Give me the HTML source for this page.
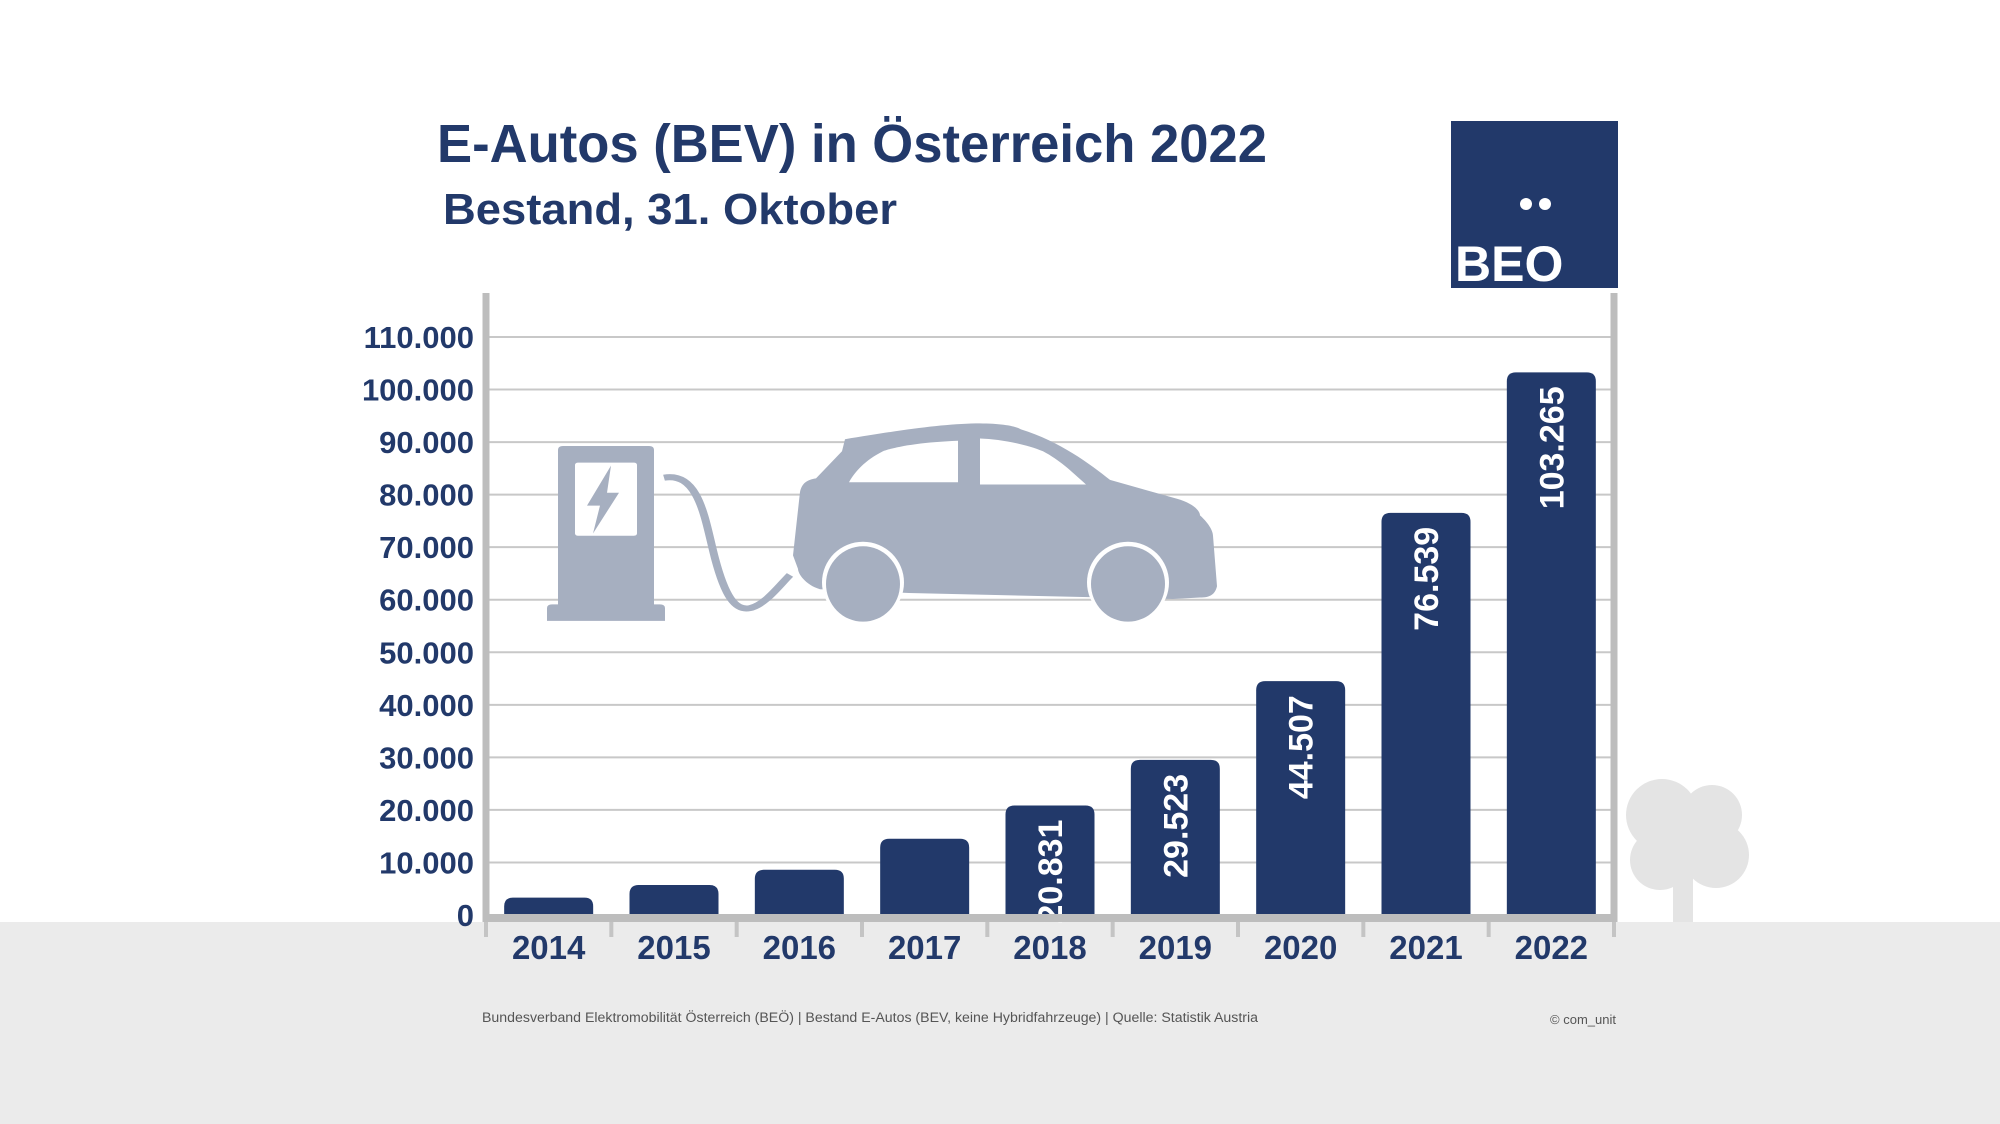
<!DOCTYPE html>
<html><head><meta charset="utf-8"><style>
html,body{margin:0;padding:0;background:#fff;}
svg{display:block;}
text{font-family:"Liberation Sans",sans-serif;}
</style></head><body>
<svg id="chart" width="2000" height="1124" viewBox="0 0 2000 1124">
<rect x="0" y="0" width="2000" height="1124" fill="#ffffff"/>
<rect x="0" y="922" width="2000" height="202" fill="#ebebeb"/>
<g fill="#e4e4e4">
<rect x="1673" y="860" width="20" height="62"/>
<circle cx="1662" cy="815" r="36"/><circle cx="1712" cy="815" r="30"/>
<circle cx="1660" cy="860" r="30"/><circle cx="1716" cy="855" r="33"/><circle cx="1690" cy="840" r="30"/>
</g>
<text x="437" y="162" font-size="54" font-weight="bold" fill="#22396a" textLength="830" lengthAdjust="spacingAndGlyphs">E-Autos (BEV) in Österreich 2022</text>
<text x="443" y="224" font-size="44" font-weight="bold" fill="#22396a" textLength="454" lengthAdjust="spacingAndGlyphs">Bestand, 31. Oktober</text>
<g>
<rect x="1451" y="121" width="167" height="167" fill="#22396a"/>
<circle cx="1526" cy="204" r="6" fill="#fff"/><circle cx="1545" cy="204" r="6" fill="#fff"/>
<text x="1455" y="281" font-size="50" font-weight="bold" fill="#fff">BEO</text>
</g>
<g id="grid"></g>
<g fill="#a6afc0" transform="translate(0,446) scale(1,0.754) translate(0,-461)">
<path d="M558 466 Q558 461 563 461 L649 461 Q654 461 654 466 L654 671 L660 671 Q665 671 665 676 L665 693 L547 693 L547 676 Q547 671 552 671 L558 671 Z"/>
<rect x="575" y="483" width="62" height="97" rx="3" fill="#fff"/>
<path d="M611 487 L587 540 L600 540 L593 577 L619 523 L607 523 Z"/>
<path d="M664 503 C700 495 705 560 715 610 C725 660 735 680 750 676 C765 672 780 645 790 632" fill="none" stroke="#a6afc0" stroke-width="8"/>
<path d="M845 452 C900 440 940 432 976 431 C1000 431 1015 434 1021 439 C1060 455 1090 485 1110 506 L1177 531 C1195 538 1200 548 1200 553 C1210 565 1213 575 1213 580 L1217 647 C1215 658 1210 662 1200 662 L1173 664 L909 656 L820 651 C805 645 798 630 798 624 L793 606 L800 522 C802 510 807 506 816 504 L842 468 Z"/>
<path d="M849 509 L958 509 L958 454 C920 456 895 462 883 468 C865 480 855 495 849 509 Z" fill="#fff"/>
<path d="M980 451 L980 512 L1086 512 C1070 493 1060 480 1043 468 C1025 458 1000 452 980 451 Z" fill="#fff"/>
<ellipse cx="863" cy="642" rx="41" ry="54" fill="#fff"/><ellipse cx="863" cy="644" rx="37" ry="50"/>
<ellipse cx="1128" cy="642" rx="41" ry="54" fill="#fff"/><ellipse cx="1128" cy="644" rx="37" ry="50"/>
</g>
<g id="bars"></g>
<g id="axes"></g>
<text x="482" y="1022" font-size="13.5" fill="#555" textLength="776" lengthAdjust="spacingAndGlyphs">Bundesverband Elektromobilität Österreich (BEÖ) | Bestand E-Autos (BEV, keine Hybridfahrzeuge) | Quelle: Statistik Austria</text>
<text x="1616" y="1024" font-size="13" fill="#555" text-anchor="end">© com_unit</text>
</svg>
<script>
const categories = ["2014","2015","2016","2017","2018","2019","2020","2021","2022"];
const values = [3300, 5700, 8600, 14500, 20831, 29523, 44507, 76539, 103265];
const valueLabels = ["","","","","20.831","29.523","44.507","76.539","103.265"];
const yTicks = [0,10000,20000,30000,40000,50000,60000,70000,80000,90000,100000,110000];
const yTickLabels = ["0","10.000","20.000","30.000","40.000","50.000","60.000","70.000","80.000","90.000","100.000","110.000"];

const NS = "http://www.w3.org/2000/svg";
const X0 = 486, X1 = 1614, Y0 = 915, Y1 = 337, YMAX = 110000;
const step = (X1 - X0) / categories.length;
function y(v){ return Y0 - (v / YMAX) * (Y0 - Y1); }
function xc(i){ return X0 + step * (i + 0.5); }
function mk(tag, attrs, parent){ const e = document.createElementNS(NS, tag); for (const k in attrs) e.setAttribute(k, attrs[k]); parent.appendChild(e); return e; }

const grid = document.getElementById("grid");
const axes = document.getElementById("axes");
const bars = document.getElementById("bars");

yTicks.forEach((t, i) => {
  if (t > 0) {
    const l = mk("line", {x1: X0, x2: X1, y1: y(t), y2: y(t), stroke: "#c8c8c8", "stroke-width": 2}, grid);
    
    
  }
  const tx = mk("text", {x: 474, y: y(t) + 11, "text-anchor": "end", "font-size": 31, "font-weight": "bold", fill: "#22396a"}, axes);
  tx.textContent = yTickLabels[i];
  
  
});

values.forEach((v, i) => {
  const w = 89, bx = xc(i) - w / 2, by = y(v), r = Math.min(9, (Y0 - by) / 2);
  const p = mk("path", {d: `M${bx} ${Y0} L${bx} ${by + r} Q${bx} ${by} ${bx + r} ${by} L${bx + w - r} ${by} Q${bx + w} ${by} ${bx + w} ${by + r} L${bx + w} ${Y0} Z`, fill: "#22396a"}, bars);
  
  
  if (valueLabels[i]) {
    const cx = xc(i) + 12, cy = by + 14;
    const t = mk("text", {x: cx, y: cy, transform: `rotate(-90 ${cx} ${cy})`, "text-anchor": "end", "font-size": 34, "font-weight": "bold", fill: "#fff"}, bars);
    t.textContent = valueLabels[i];
    
    
  }
  const yl = mk("text", {x: xc(i), y: 959, "text-anchor": "middle", "font-size": 33, "font-weight": "bold", fill: "#22396a"}, axes);
  yl.textContent = categories[i];
  
  
});

for (let i = 0; i <= categories.length; i++) {
  const tk = mk("line", {x1: X0 + step * i, x2: X0 + step * i, y1: 918, y2: 937, stroke: "#c4c4c4", "stroke-width": 4}, axes);
  
  
}
const la = mk("line", {x1: 486, x2: 486, y1: 293, y2: 922, stroke: "#bdbdbd", "stroke-width": 7}, axes);


const ra = mk("line", {x1: 1614, x2: 1614, y1: 293, y2: 922, stroke: "#bdbdbd", "stroke-width": 7}, axes);


const bl = mk("line", {x1: 483, x2: 1617, y1: 918, y2: 918, stroke: "#bdbdbd", "stroke-width": 8}, axes);


</script>
</body></html>
